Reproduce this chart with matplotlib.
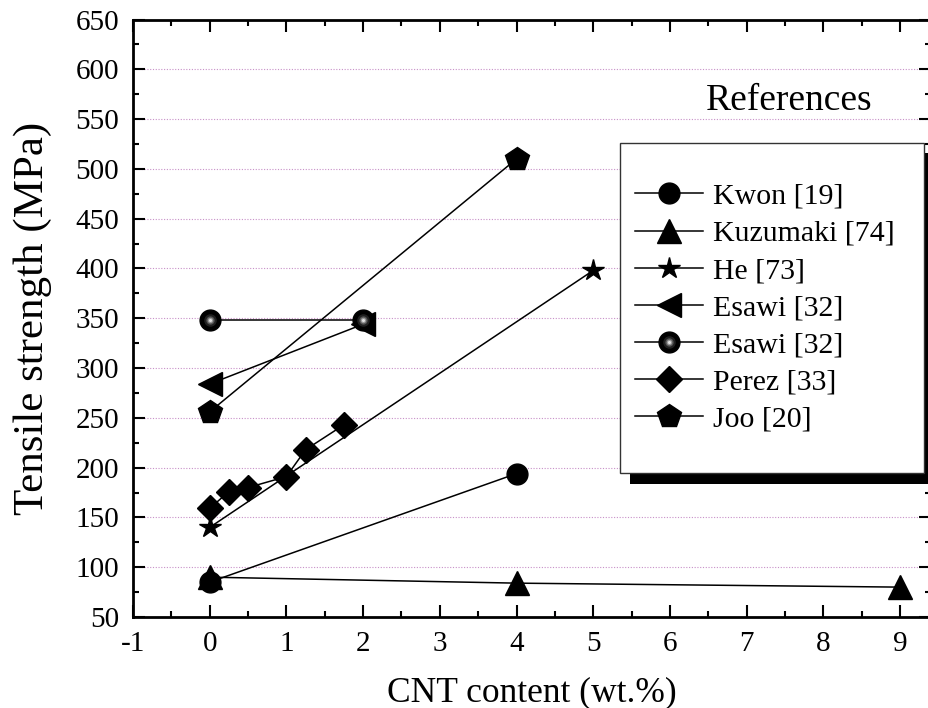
import numpy as np
import matplotlib
matplotlib.use("Agg")
import matplotlib.pyplot as plt
from matplotlib.patches import Rectangle
from matplotlib.legend_handler import HandlerTuple
from matplotlib.ticker import MultipleLocator

plt.rcParams['font.family'] = ['Liberation Serif', 'DejaVu Serif']
plt.rcParams['axes.unicode_minus'] = False

# tensile strength (MPa) vs CNT content (wt.%)
kwon_x = [0, 4]
kwon_y = [85, 194]
kuzumaki_x = [0, 4, 9]
kuzumaki_y = [90, 84, 80]
he_x = [0, 5]
he_y = [140, 398]
esawi_a_x = [0, 2]
esawi_a_y = [284, 344]
esawi_b_x = [0, 2]
esawi_b_y = [348, 348]
perez_x = [0, 0.25, 0.5, 1.0, 1.25, 1.75]
perez_y = [159, 176, 180, 191, 218, 243]
joo_x = [0, 4]
joo_y = [256, 510]

W, H = 929, 708
fig = plt.figure(figsize=(W / 100, H / 100), dpi=100)
ax = fig.add_axes([133 / W, (H - 617) / H, (931 - 133) / W, (617 - 19.5) / H])

lw = 1.1
kw = dict(color='black', lw=lw, mec='black', mfc='black')
h_kwon, = ax.plot(kwon_x, kwon_y, marker='o', ms=15, **kw)
h_kuz, = ax.plot(kuzumaki_x, kuzumaki_y, marker='^', ms=17, **kw)
h_he, = ax.plot(he_x, he_y, marker='*', ms=16, **kw)
h_esa, = ax.plot(esawi_a_x, esawi_a_y, marker='<', ms=17, **kw)

# shaded sphere: black disc with lighter layers stacked on top
h_esb, = ax.plot(esawi_b_x, esawi_b_y, marker='o', ms=15, **kw)
shade = []
for s, c in [(9, '#202020'), (6, '#555555'), (4, '#999999'), (2.2, '#e0e0e0')]:
    h, = ax.plot(esawi_b_x, esawi_b_y, ls='none', marker='o', ms=s,
                 mfc=c, mec='none')
    shade.append(h)

h_perez, = ax.plot(perez_x, perez_y, marker='D', ms=13, **kw)
h_joo, = ax.plot(joo_x, joo_y, marker='p', ms=18, **kw)

ax.set_xlim(-1, -1 + (931 - 133) / 76.7)
ax.set_ylim(50, 650)
ax.xaxis.set_major_locator(MultipleLocator(1))
ax.xaxis.set_minor_locator(MultipleLocator(0.5))
ax.yaxis.set_major_locator(MultipleLocator(50))
ax.yaxis.set_minor_locator(MultipleLocator(25))
ax.tick_params(which='both', direction='in', top=True, right=True,
               labelsize=21, width=1.5, pad=10)
ax.tick_params(which='major', length=8.5)
ax.tick_params(which='minor', length=4.3)
for sp in ax.spines.values():
    sp.set_linewidth(2)

ax.yaxis.grid(True, which='major', color='#c890c8', lw=0.8, ls=(0, (1, 1.5)))
ax.set_axisbelow(True)

ax.set_xlabel('CNT content (wt.%)', fontsize=25.5, labelpad=14)
ax.set_ylabel('Tensile strength (MPa)', fontsize=31)
ax.yaxis.set_label_coords(-0.101, 0.5)

# legend frame with a solid drop shadow
def px_rect(x0, y0, x1, y1, **kws):
    return Rectangle((x0 / W, 1 - y1 / H), (x1 - x0) / W, (y1 - y0) / H,
                     transform=fig.transFigure, **kws)

fig.add_artist(px_rect(630, 153, 934, 484, facecolor='black', edgecolor='none', zorder=5))
fig.add_artist(px_rect(620, 143, 924, 473, facecolor='white', edgecolor='#333333',
                       lw=1, zorder=6))
fig.text(789 / W, 1 - 101 / H, 'References', fontsize=27, ha='center',
         va='center')

handles = [h_kwon, h_kuz, h_he, h_esa, tuple([h_esb] + shade), h_perez, h_joo]
labels = ['Kwon [19]', 'Kuzumaki [74]', 'He [73]', 'Esawi [32]',
          'Esawi [32]', 'Perez [33]', 'Joo [20]']
leg = fig.legend(handles, labels, loc='upper left',
                 bbox_to_anchor=(635 / W, 1 - 183 / H), frameon=False,
                 fontsize=21.5, handlelength=2.27, handletextpad=0.33,
                 labelspacing=0.34, borderpad=0, borderaxespad=0,
                 handler_map={tuple: HandlerTuple(ndivide=1)})
leg.set_zorder(7)

fig.savefig('out.png', dpi=100)
